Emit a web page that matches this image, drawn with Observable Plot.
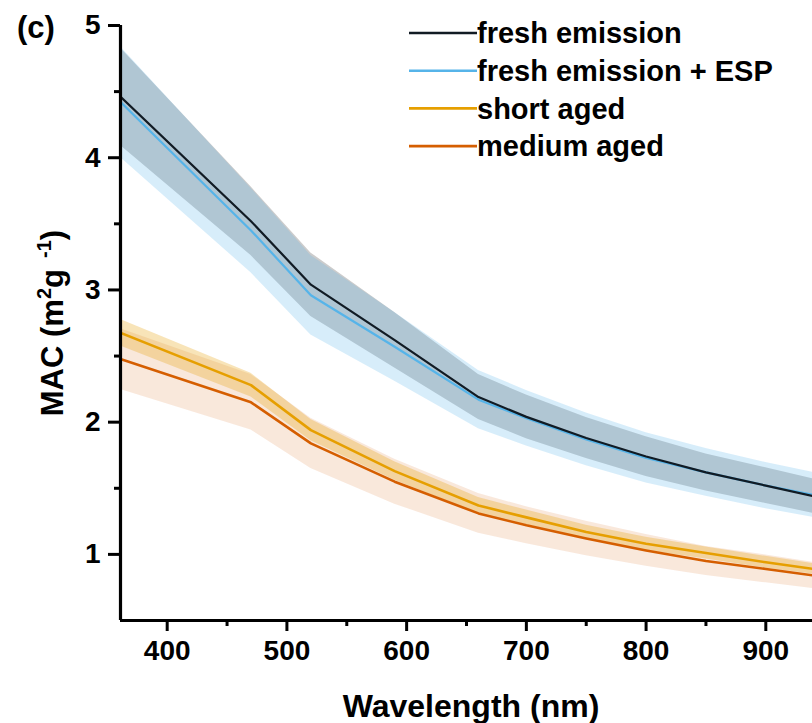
<!DOCTYPE html>
<html>
<head>
<meta charset="utf-8">
<script src="https://cdn.jsdelivr.net/npm/d3@7"></script>
<script src="https://cdn.jsdelivr.net/npm/@observablehq/plot@0.6"></script>
<style>
  html, body { margin: 0; padding: 0; background: #fff; }
  #chart { width: 812px; height: 723px; }
</style>
</head>
<body>
<div id="chart"></div>
<script>
// Data (MAC, m2 g-1, vs wavelength, nm)
const wavelengths = [360, 470, 520, 590, 660, 700, 750, 800, 850, 900, 940];
const freshMean  = [4.47, 3.52, 3.04, 2.62, 2.19, 2.04, 1.88, 1.74, 1.62, 1.52, 1.44];
const freshSD    = [0.37, 0.26, 0.24, 0.21, 0.17, 0.165, 0.155, 0.15, 0.14, 0.135, 0.13];
const espMean    = [4.43, 3.45, 2.96, 2.57, 2.17, 2.03, 1.87, 1.73, 1.62, 1.52, 1.45];
const espSD      = [0.42, 0.32, 0.30, 0.26, 0.22, 0.21, 0.20, 0.19, 0.18, 0.175, 0.17];
const shortMean  = [2.68, 2.28, 1.94, 1.63, 1.37, 1.28, 1.17, 1.08, 1.01, 0.94, 0.89];
const shortSD    = [0.10, 0.09, 0.08, 0.07, 0.06, 0.055, 0.05, 0.05, 0.045, 0.045, 0.04];
const mediumMean = [2.48, 2.15, 1.84, 1.55, 1.31, 1.22, 1.12, 1.03, 0.95, 0.89, 0.84];
const mediumSD   = [0.23, 0.21, 0.19, 0.17, 0.15, 0.14, 0.13, 0.12, 0.11, 0.105, 0.10];

const seriesNames = ["fresh emission", "fresh emission + ESP", "short aged", "medium aged"];
const lineColors  = ["#111b24", "#56B4E9", "#E69F00", "#D55E00"];
const bandColors  = ["#000000", "#56B4E9", "#E69F00", "#D55E00"];
const bandOpacity = [0.2, 0.24, 0.28, 0.14];

const xTicks = [400, 500, 600, 700, 800, 900];
const xMinorTicks = [450, 550, 650, 750, 850];
const yTicks = [1, 2, 3, 4, 5];
const yMinorTicks = [1.5, 2.5, 3.5, 4.5];

const means = [freshMean, espMean, shortMean, mediumMean];
const sds = [freshSD, espSD, shortSD, mediumSD];
const tables = seriesNames.map((name, s) =>
  wavelengths.map((w, i) => ({
    series: name, wl: w, mac: means[s][i],
    lo: means[s][i] - sds[s][i], hi: means[s][i] + sds[s][i]
  }))
);

const FONT = "'Liberation Sans', Arial, Helvetica, sans-serif";
const drawOrderBands = [0, 1, 3, 2];
const drawOrderLines = [3, 2, 1, 0];

const plot = Plot.plot({
  width: 812,
  height: 723,
  marginLeft: 120,
  marginRight: 0,
  marginTop: 25,
  marginBottom: 103,
  style: { fontFamily: FONT, fontWeight: "bold", color: "#000", background: "#fff", overflow: "visible" },
  x: { domain: [361, 939] },
  y: { domain: [0.5, 5] },
  marks: [
    ...drawOrderBands.map(s => Plot.areaY(tables[s], {
      x: "wl", y1: "lo", y2: "hi", fill: bandColors[s], fillOpacity: bandOpacity[s], clip: true
    })),
    ...drawOrderLines.map(s => Plot.lineY(tables[s], {
      x: "wl", y: "mac", stroke: lineColors[s], strokeWidth: s < 2 ? 2.2 : 2.6, clip: true
    })),
    Plot.axisY({ ticks: yTicks, tickSize: 12, strokeWidth: 3, tickFormat: () => "", label: null }),
    Plot.axisY({ ticks: yMinorTicks, tickSize: 6, strokeWidth: 3, tickFormat: () => "", label: null }),
    Plot.axisX({ ticks: xTicks, tickSize: 11, strokeWidth: 3, tickFormat: () => "", label: null }),
    Plot.axisX({ ticks: xMinorTicks, tickSize: 6, strokeWidth: 3, tickFormat: () => "", label: null }),
    Plot.text(yTicks, { y: d => d, frameAnchor: "left", dx: -20, textAnchor: "end", text: d => String(d),
      fontSize: 28, fontWeight: "bold", fill: "#000" }),
    Plot.text(xTicks, { x: d => d, frameAnchor: "bottom", lineAnchor: "top", dy: 20, textAnchor: "middle",
      text: d => String(d), fontSize: 28, fontWeight: "bold", fill: "#000" }),
    Plot.ruleX([361], { strokeWidth: 3.2 }),
    Plot.ruleY([0.5], { strokeWidth: 3.2 })
  ]
});

document.getElementById("chart").appendChild(plot);

const svg = d3.select(plot);

// Panel label
svg.append("text")
  .attr("x", 17).attr("y", 38)
  .attr("text-anchor", "start")
  .attr("font-family", FONT).attr("font-weight", "bold").attr("font-size", 31)
  .attr("fill", "#000")
  .text("(c)");

// X axis title
svg.append("text")
  .attr("x", 471).attr("y", 717)
  .attr("text-anchor", "middle")
  .attr("font-family", FONT).attr("font-weight", "bold").attr("font-size", 32)
  .attr("fill", "#000")
  .text("Wavelength (nm)");

// Y axis title with superscripts
const yt = svg.append("text")
  .attr("transform", "translate(63,323) rotate(-90)")
  .attr("text-anchor", "middle")
  .attr("font-family", FONT).attr("font-weight", "bold").attr("font-size", 31)
  .attr("fill", "#000");
yt.append("tspan").text("MAC (m");
yt.append("tspan").attr("dy", -12).attr("font-size", 20).text("2");
yt.append("tspan").attr("dy", 12).text("g");
yt.append("tspan").attr("dy", -12).attr("font-size", 20).text("\u00a0\u00a0-1");
yt.append("tspan").attr("dy", 12).text(")");

// Legend
const lg = svg.append("g");
seriesNames.forEach((name, i) => {
  const cy = 33 + i * 37.7;
  lg.append("line")
    .attr("x1", 409).attr("x2", 477).attr("y1", cy).attr("y2", cy)
    .attr("stroke", lineColors[i]).attr("stroke-width", 2.6);
  lg.append("text")
    .attr("x", 477).attr("y", cy).attr("dy", "0.35em")
    .attr("text-anchor", "start")
    .attr("font-family", FONT).attr("font-weight", "bold").attr("font-size", 29)
    .attr("fill", "#000")
    .text(name);
});
</script>
</body>
</html>
